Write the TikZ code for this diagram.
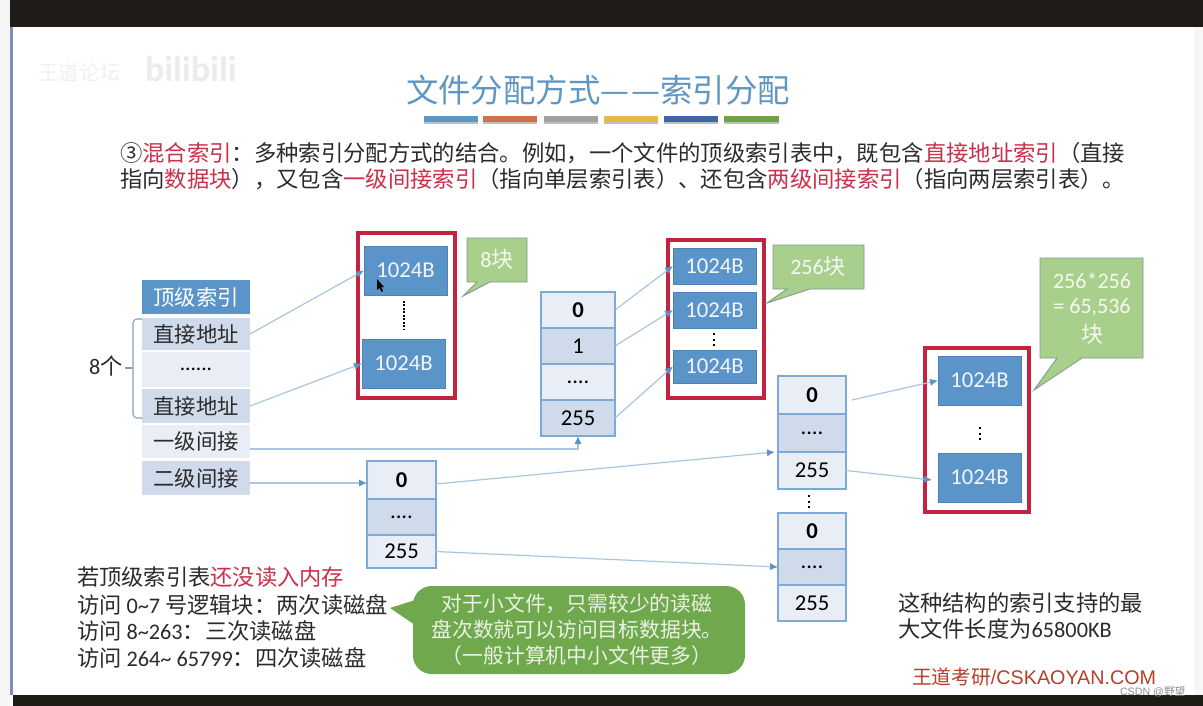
\documentclass[tikz,border=0pt]{standalone}
\usepackage{fontspec}
\setmainfont{Noto Sans CJK SC}
\newfontfamily\lat{Carlito}
\newfontfamily\ari{Liberation Sans}
\usetikzlibrary{arrows.meta,calc}
\definecolor{ink}{HTML}{2B2B2B}
\definecolor{redt}{HTML}{C9304A}
\definecolor{blueb}{HTML}{5B94C8}
\definecolor{bluee}{HTML}{4F82B4}
\definecolor{rowd}{HTML}{CFDAEB}
\definecolor{rowl}{HTML}{E9EEF6}
\definecolor{tabl}{HTML}{7DA9D6}
\definecolor{lnk}{HTML}{A9C5DF}
\definecolor{tipc}{HTML}{5B94C8}
\definecolor{greenl}{HTML}{A9CF8C}
\definecolor{greenb}{HTML}{7FA08A}
\definecolor{greend}{HTML}{70A84E}
\definecolor{titlec}{HTML}{5F97C4}
\definecolor{redbox}{HTML}{C4233F}
\definecolor{edgeb}{HTML}{7F8FB0}
\definecolor{barblack}{HTML}{1F1C18}
\definecolor{footc}{HTML}{B5402A}
\newcommand{\fs}[1]{\fontsize{#1}{#1}\selectfont}
\newcommand{\rd}[1]{\textcolor{redt}{#1}}
\newcommand{\la}[1]{{\lat #1}}
% name, x1, y1, x2, y2, style, text
\newcommand{\bx}[7]{\node[inner sep=0pt,outer sep=0pt,minimum width={(#4-#2)*0.75pt},minimum height={(#5-#3)*0.75pt},#6] (#1) at ({(#2+#4)/2},{(#3+#5)/2}) {#7};}
\tikzset{
  x=0.75pt,y=-0.75pt,
  hdr/.style={fill=blueb,text=white,font=\fs{16}},
  rowD/.style={fill=rowd,text=ink,font=\fs{16}},
  rowL/.style={fill=rowl,text=ink,font=\fs{16}},
  cellL/.style={fill=rowl,draw=tabl,line width=0.9pt,text=black,font=\lat\fs{17}},
  cellD/.style={fill=rowd,draw=tabl,line width=0.9pt,text=black,font=\lat\fs{17}},
  datab/.style={fill=blueb,draw=bluee,line width=0.6pt,text=white!92!blueb,font=\lat\fs{17}},
  redframe/.style={draw=redbox,line width=2.4pt},
  lnkline/.style={draw=lnk,line width=0.9pt,-{Latex[length=6pt,width=5.5pt,color=tipc]}},
  vd/.style={line width=1.6pt,black,dash pattern=on 1.6pt off 2.6pt},
  callout/.style={fill=greenl,draw=greenb,line width=0.7pt},
  calltxt/.style={text=white!88!greenl,font=\fs{16.5},align=center,inner sep=0pt},
  plain/.style={inner sep=0pt,outer sep=0pt,anchor=west,align=left,text=ink}
}
\begin{document}
\begin{tikzpicture}
\useasboundingbox (0,0) rectangle (1203,706);
% page
\fill[white] (0,0) rectangle (1203,706);
\fill[black!4] (0,0) rectangle (10,706);
\fill[black!3] (1194,27) rectangle (1203,695);
\fill[edgeb] (10,27) rectangle (13,695);
\fill[barblack] (10,0) rectangle (1203,27);
\fill[barblack] (13,695) rectangle (1203,706);
% watermark
\node[plain,text=black!6,font=\fs{15.5}] (wm1) at (38,73) {王道论坛};
\node[plain,text=black!8,font=\lat\bfseries\fs{27}] (wm2) at (145,69) {bilibili};
% title
\node[text=titlec,font=\fs{24.3},inner sep=0pt] (title) at (598,90) {文件分配方式—\kern1.5pt—索引分配};
\foreach \a/\b/\c in {424/478/5F97C4,483/537/D0704A,544/598/A0A0A0,604/658/E8B84B,664/718/3F65A8,724/779/6FA244}{
  \definecolor{barc}{HTML}{\c}
  \fill[black!25] (\a,118) rectangle (\b,124);
  \fill[barc] (\a,116) rectangle (\b,122);
}
% intro
\node[plain,font=\fs{16.75}] (intro1) at (120,153) {③\rd{混合索引}：多种索引分配方式的结合。例如，一个文件的顶级索引表中，既包含\rd{直接地址索引}（直接};
\node[plain,font=\fs{16.75}] (intro2) at (120,179) {指向\rd{数据块}），又包含\rd{一级间接索引}（指向单层索引表）、还包含\rd{两级间接索引}（指向两层索引表）。};
% top table
\bx{h}{142}{280}{250}{314}{hdr}{顶级索引}
\bx{d1}{142}{318}{250}{350}{rowD}{直接地址}
\bx{dm}{142}{352}{250}{387}{rowL,text=black,font=\lat\fs{16}}{......}
\bx{d2}{142}{389}{250}{423}{rowD}{直接地址}
\bx{l1}{142}{425}{250}{458}{rowL}{一级间接}
\bx{l2}{142}{461}{250}{495}{rowD}{二级间接}
\node[plain,font=\fs{16.7}] (eight) at (89,366) {\la{8}个};
\draw[draw=lnk!80!black,line width=0.8pt,rounded corners=3pt] (142,319) -- (133,319) -- (133,418) -- (142,418);
\draw[draw=lnk!80!black,line width=0.8pt] (133,368) -- (125,368);
% red frame 1
\bx{r1}{358}{233}{455}{398}{redframe}{}
\bx{b1}{364}{246}{447}{295}{datab}{1024B}
\bx{b2}{362}{339}{445}{388}{datab}{1024B}
\draw[line width=1.4pt,black,dash pattern=on 1.3pt off 1.3pt] (404,301) -- (404,329);
\fill[black] (377,279) -- (377,290) -- (379.5,288) -- (381.5,292) -- (383,291) -- (381,287) -- (384,287) -- cycle;
% callout 8
\path[callout,draw] (467,238) -- (527,238) -- (527,282) -- (490,282) -- (463,296) -- (477,282) -- (467,282) -- cycle;
\node[calltxt] (c8) at (497,259) {\la{8}块};
% table 2
\bx{t20}{541}{292}{615}{328}{cellL}{\bfseries 0}
\bx{t21}{541}{328}{615}{364}{cellD}{1}
\bx{t2m}{541}{364}{615}{400}{cellL}{....}
\bx{t2e}{541}{400}{615}{436}{cellD}{255}
% red frame 2
\bx{r2}{668}{240}{764}{398}{redframe}{}
\bx{b3}{673}{248}{756}{284}{datab}{1024B}
\bx{b4}{673}{292}{756}{328}{datab}{1024B}
\bx{b5}{673}{350}{756}{383}{datab}{1024B}
\draw[vd] (714,333) -- (714,346);
% callout 256
\path[callout,draw] (773,245) -- (864,245) -- (864,289) -- (810,289) -- (767,303) -- (787,289) -- (773,289) -- cycle;
\node[calltxt] (c256) at (818,266) {\la{256}块};
% table 3
\bx{t30}{367}{461}{436}{499}{cellL}{\bfseries 0}
\bx{t3m}{367}{499}{436}{535}{cellD}{....}
\bx{t3e}{367}{535}{436}{568}{cellL}{255}
% table 4
\bx{t40}{778}{376}{846}{414}{cellL}{\bfseries 0}
\bx{t4m}{778}{414}{846}{452}{cellD}{....}
\bx{t4e}{778}{452}{846}{489}{cellL}{255}
\draw[vd] (809,495) -- (809,508);
% table 5
\bx{t50}{778}{513}{846}{549}{cellL}{\bfseries 0}
\bx{t5m}{778}{549}{846}{585}{cellD}{....}
\bx{t5e}{778}{585}{846}{621}{cellL}{255}
% red frame 3
\bx{r3}{925}{348}{1029}{512}{redframe}{}
\bx{b6}{938}{356}{1021}{405}{datab}{1024B}
\bx{b7}{938}{453}{1021}{502}{datab}{1024B}
\draw[vd,line width=1.4pt] (980,427) -- (980,440);
% callout 65536
\path[callout,draw] (1040,258) -- (1143,258) -- (1143,358) -- (1082,358) -- (1034,390) -- (1057,358) -- (1040,358) -- cycle;
\node[calltxt] (c65a) at (1092,281) {\la{256*256}};
\node[calltxt] (c65b) at (1092,307) {\la{= 65,536}};
\node[calltxt] (c65c) at (1092,334) {块};
% connectors
\draw[lnkline] (d1.east) -- (b1.west);
\draw[lnkline] (d2.east) -- (b2.west);
\coordinate (l1o) at (250,449);
\draw[lnkline] (l1o) -| (t2e.south);
\coordinate (l2o) at (250,483);
\coordinate (l2i) at (367,483);
\draw[lnkline] (l2o) -- (l2i);
\draw[lnkline] (t20.east) -- (b3.west);
\draw[lnkline] (t21.east) -- (b4.west);
\draw[lnkline] (t2e.east) -- (b5.west);
\coordinate (t30o) at (436,484);
\coordinate (t4in) at (775,452);
\draw[lnkline] (t30o) -- (t4in);
\draw[lnkline] (t3e.east) -- (t5m.west);
\coordinate (t40o) at (852,400);
\draw[lnkline] (t40o) -- (b6.west);
\coordinate (b7in) at (932,480);
\draw[lnkline] (t4e.east) -- (b7in);
% bottom-left text
\node[plain,font=\fs{16.7}] (n1) at (77,577) {若顶级索引表\rd{还没读入内存}};
\node[plain,font=\fs{16.7}] (n2) at (77,605) {访问 \la{0\char`\~7} 号逻辑块：两次读磁盘};
\node[plain,font=\fs{16.7}] (n3) at (77,631) {访问 \la{8\char`\~263}：三次读磁盘};
\node[plain,font=\fs{16.7}] (n4) at (77,658) {访问 \la{264\char`\~{} 65799}：四次读磁盘};
% green note
\fill[greend,rounded corners=14pt] (413,586) rectangle (745,674);
\fill[greend] (415,600) -- (390,608) -- (415,625) -- cycle;
\node[text=white!85!greend,font=\fs{15.6},inner sep=0pt] (g1) at (577,604) {对于小文件，只需较少的读磁};
\node[text=white!85!greend,font=\fs{15.6},inner sep=0pt] (g2) at (577,630) {盘次数就可以访问目标数据块。};
\node[text=white!85!greend,font=\fs{15.6},inner sep=0pt] (g3) at (577,656) {（一般计算机中小文件更多）};
% right note
\node[plain,font=\fs{16.7}] (rn1) at (898,603) {这种结构的索引支持的最};
\node[plain,font=\fs{16.7}] (rn2) at (898,629) {大文件长度为\la{65800KB}};
% footer
\node[plain,text=footc,font=\ari\fs{14.8}] (foot) at (912,677) {{\fontspec{Noto Sans CJK SC}王道考研}/CSKAOYAN.COM};
\node[plain,text=black!45,font=\ari\fs{8}] (csdn) at (1120,692) {CSDN @{\fontspec{Noto Sans CJK SC}野望}};
\end{tikzpicture}
\end{document}
